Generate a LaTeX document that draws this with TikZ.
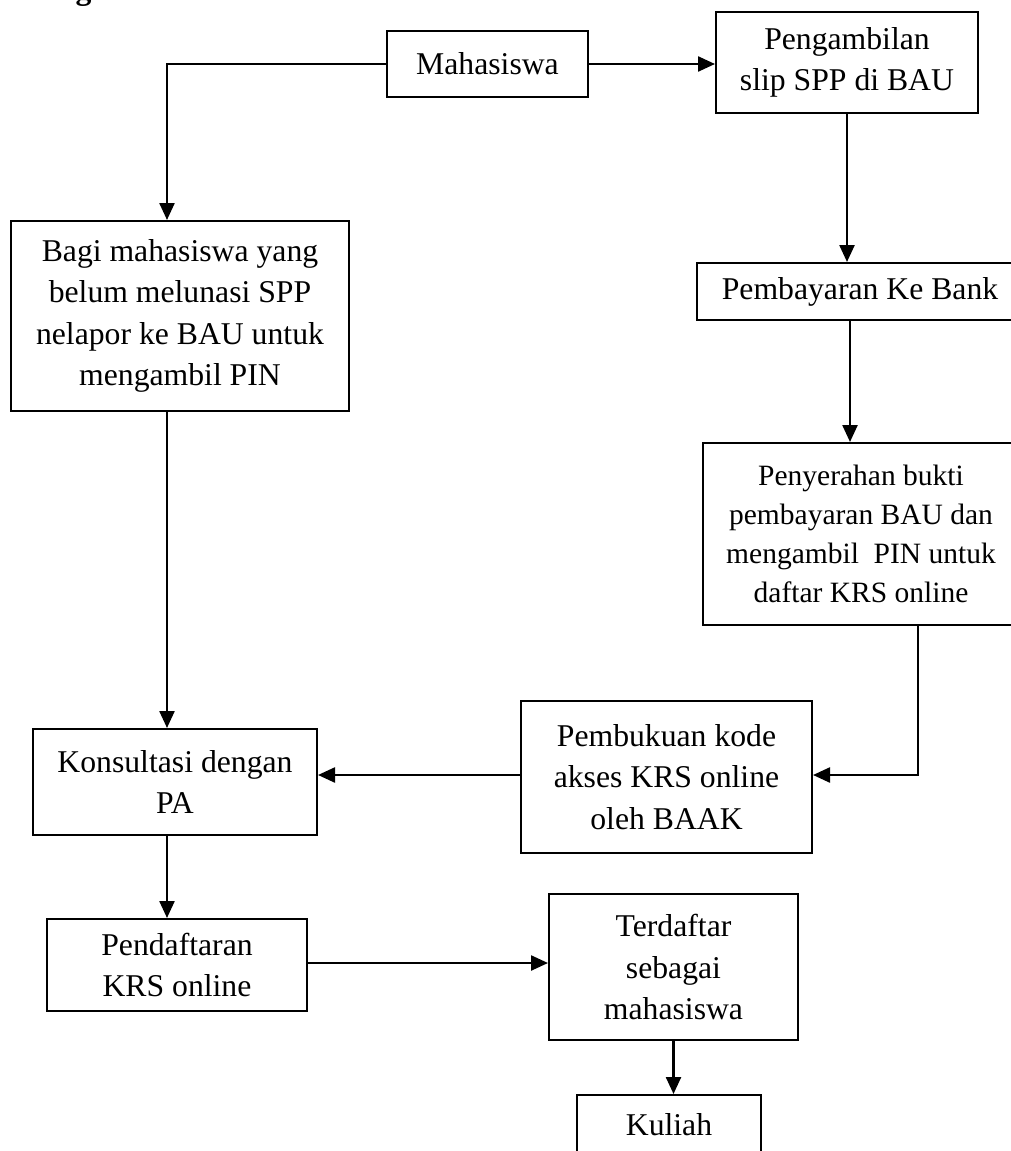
\documentclass[tikz,border=0pt]{standalone}
\usepackage{fontspec}
\setmainfont{Liberation Serif}
\usetikzlibrary{arrows.meta}
\tikzset{
  box/.style={draw, line width=2pt, rectangle, inner sep=0pt, align=center,
    font=\fontsize{31.7pt}{41.5pt}\selectfont},
  arr/.style={line width=2.4pt, -{Triangle[length=17pt,width=15pt]}},
  ln/.style={line width=2.4pt}
}
\begin{document}
\begin{tikzpicture}[x=1pt,y=-1pt]
\clip (0,0) rectangle (1011,1151);
\node[anchor=base west, font=\bfseries\fontsize{31.7pt}{40pt}\selectfont] (ttl) at (35,-1) {Bagan};
\node[box, minimum width=201pt, minimum height=66pt] (mah) at (487.5,64) {Mahasiswa};
\node[box, minimum width=262pt, minimum height=101pt] (peng) at (847,62.5) {Pengambilan\\slip SPP di BAU};
\node[box, minimum width=326pt, minimum height=57pt] (bayar) at (860,291.5) {Pembayaran Ke Bank};
\node[box, minimum width=316pt, minimum height=182pt, font=\fontsize{29.5pt}{39pt}\selectfont] (serah) at (861,534) {Penyerahan bukti\\pembayaran BAU dan\\mengambil\ \ PIN untuk\\daftar KRS online};
\node[box, minimum width=291pt, minimum height=152pt] (pemb) at (666.5,777) {Pembukuan kode\\akses KRS online\\oleh BAAK};
\node[box, minimum width=338pt, minimum height=190pt] (bagi) at (180,316) {Bagi mahasiswa yang\\belum melunasi SPP\\nelapor ke BAU untuk\\mengambil PIN};
\node[box, minimum width=284pt, minimum height=106pt] (kons) at (175,782) {Konsultasi dengan\\PA};
\node[box, minimum width=260pt, minimum height=92pt] (pend) at (177,965) {Pendaftaran\\KRS online};
\node[box, minimum width=249pt, minimum height=146pt] (terd) at (673.5,967) {Terdaftar\\sebagai\\mahasiswa};
\node[box, minimum width=184pt, minimum height=60pt] (kul) at (669,1125) {Kuliah};

\draw[arr] (mah.west) -| ([xshift=-13pt]bagi.north);
\draw[arr] (mah.east) -- (mah.east -| peng.west);
\draw[arr] (peng.south) -- (peng.south |- bayar.north);
\draw[arr] ([xshift=-10pt]bayar.south) -- ([xshift=-10pt]bayar.south |- serah.north);
\draw[arr] ([xshift=57pt]serah.south) |- ([yshift=2pt]pemb.east);
\draw[arr] ([yshift=2pt]pemb.west) -- ([yshift=2pt]pemb.west -| kons.east);
\draw[arr] ([xshift=-13pt]bagi.south) -- ([xshift=-13pt]bagi.south |- kons.north);
\draw[arr] ([xshift=-8pt]kons.south) -- ([xshift=-8pt]kons.south |- pend.north);
\draw[arr] ([yshift=2pt]pend.east) -- ([yshift=2pt]pend.east -| terd.west);
\draw[arr] (terd.south) -- (terd.south |- kul.north);
\end{tikzpicture}
\end{document}
